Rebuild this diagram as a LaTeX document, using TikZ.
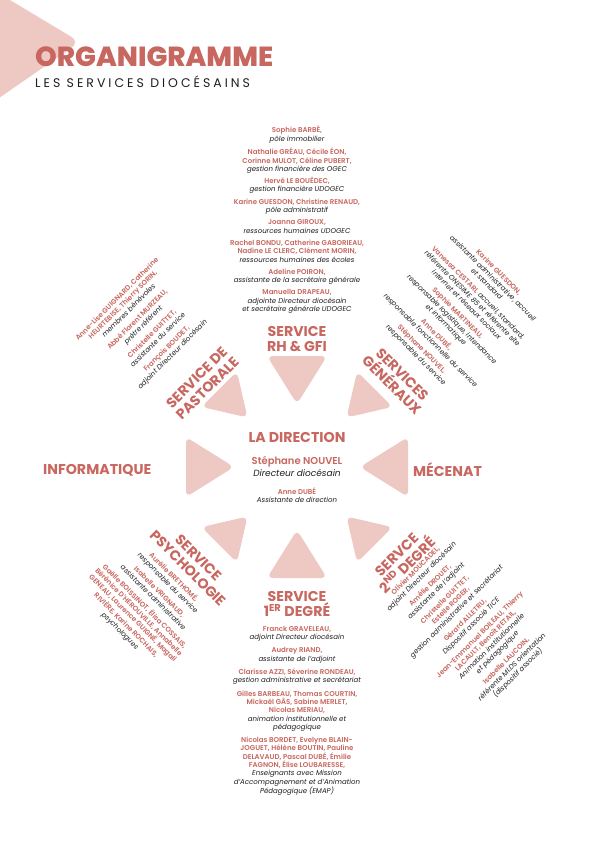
\documentclass[tikz,border=0pt]{standalone}
\usepackage{fontspec}
\setmainfont{Poppins}
\newfontfamily\medfont{Poppins SemiBold}
\newfontfamily\titlefont{Poppins ExtraBold}
\newfontfamily\spacedfont[LetterSpace=24]{Poppins}
\definecolor{rose}{HTML}{C8675F}
\definecolor{blush}{HTML}{EEC9C3}
\definecolor{ink}{HTML}{1E1E1E}
\newcommand{\who}[1]{{\color{rose}\medfont #1}}
\newcommand{\what}[1]{{\itshape #1}}
\tikzset{
  heading/.style={text=rose, font=\bfseries\fontsize{14.2}{15}\selectfont, align=center, inner sep=0pt},
  roster/.style={text=ink, font=\fontsize{7}{8.3}\selectfont, align=center, inner sep=0pt},
  petal/.style={fill=blush, rounded corners=6pt},
}
\begin{document}
\begin{tikzpicture}[x=1pt,y=-1pt]
\useasboundingbox (0,0) rectangle (594,846);
\fill[white] (0,0) rectangle (594,846);
\begin{scope}
\clip (0,0) rectangle (594,846);
\fill[blush, rounded corners=10pt] (-40,-30) -- (80,42) -- (-40,125) -- cycle;
\end{scope}
\node[anchor=base west, text=rose, font=\titlefont\fontsize{27.6}{28}\selectfont, inner sep=0pt] (title) at (35,66) {ORGANIGRAMME};
\node[anchor=base west, text=ink, font=\spacedfont\fontsize{12.5}{13}\selectfont, inner sep=0pt] (subtitle) at (35,87) {LES SERVICES DIOCÉSAINS};
% the eight petals round the direction
\foreach \a in {0,90,180,270}
  \fill[petal, shift={(297,467)}, rotate=\a] (63,0) -- (111,-30) -- (111,30) -- cycle;
\foreach \a in {45,135,225,315}
  \fill[petal, shift={(297,467)}, rotate=\a] (70,0) -- (110,-25) -- (110,25) -- cycle;
% service headings
\node[heading] (rhgfi) at (297,339) {SERVICE\\RH \& GFI};
\node[heading] (direction) at (297,437) {LA DIRECTION};
\node[heading, anchor=west] (informatique) at (43,470) {INFORMATIQUE};
\node[heading, anchor=west] (mecenat) at (413,470) {MÉCENAT};
\node[heading, rotate=45] (pastorale) at (202,383) {SERVICE DE\\PASTORALE};
\node[heading, rotate=-45] (generaux) at (397,380) {SERVICES\\GÉNÉRAUX};
\node[heading, rotate=-45] (psycho) at (193,563) {SERVICE\\PSYCHOLOGIE};
\node[heading, rotate=45] (second) at (402,560) {SERVCE\\2\textsuperscript{ND} DEGRÉ};
\node[heading] (premier) at (297,604) {SERVICE\\1\textsuperscript{ER} DEGRÉ};
% direction
\node[text=rose, font=\medfont\fontsize{10}{11}\selectfont, inner sep=0pt] (nouvel) at (297,462) {Stéphane NOUVEL};
\node[text=ink, font=\itshape\fontsize{9}{10}\selectfont, inner sep=0pt] (nouvelrole) at (297,473) {Directeur diocésain};
\node[roster] (dube) at (297,495) {\who{Anne DUBÉ}\\\what{Assistante de direction}};
% the rosters
\node[roster, anchor=north] (rhlist) at (297,126) {
\who{Sophie BARBÉ,}\\\what{pôle immobilier}\\[4pt]
\who{Nathalie GRÉAU, Cécile ÉON,}\\\who{Corinne MULOT, Céline PUBERT,}\\\what{gestion financière des OGEC}\\[4pt]
\who{Hervé LE BOUËDEC,}\\\what{gestion financière UDOGEC}\\[4pt]
\who{Karine GUESDON, Christine RENAUD,}\\\what{pôle administratif}\\[4pt]
\who{Joanna GIROUX,}\\\what{ressources humaines UDOGEC}\\[4pt]
\who{Rachel BONDU, Catherine GABORIEAU,}\\\who{Nadine LE CLERC, Clément MORIN,}\\\what{ressources humaines des écoles}\\[4pt]
\who{Adeline POIRON,}\\\what{assistante de la secrétaire générale}\\[4pt]
\who{Manuella DRAPEAU,}\\\what{adjointe Directeur diocésain}\\\what{et secrétaire générale UDOGEC}};
\node[roster, rotate=45] (pastlist) at (145,327) {
\who{Anne-Lise GUIGNARD, Catherine}\\\who{HEURTEBISE, Thierry SORIN,}\\\what{membres bénévoles}\\[4pt]
\who{Abbé Florent MURZEAU,}\\\what{prêtre référent}\\[4pt]
\who{Christelle GUITTET,}\\\what{assistante du service}\\[4pt]
\who{François BOUDET,}\\\what{adjoint Directeur diocésain}};
\node[roster, rotate=-45] (genlist) at (457,314) {
\who{Karine GUESDON,}\\\what{assistante administrative, accueil}\\\what{et standard}\\[4pt]
\who{Vanessa CESTARI,} \what{accueil, standard,}\\\what{référente ONESIME 85 et référente site}\\\what{internet et réseaux sociaux}\\[4pt]
\who{Sophie MARTINEAU,}\\\what{responsable logistique, intendance}\\\what{et informatique}\\[4pt]
\who{Anne DUBÉ,}\\\what{responsable fonctionnelle du service}\\[4pt]
\who{Stéphane NOUVEL,}\\\what{responsable du service}};
\node[roster, rotate=-45] (psylist) at (147,604) {
\who{Aurélie BRETHOMÉ,}\\\what{responsable du service}\\[4pt]
\who{Isabelle VRIGNAUD,}\\\what{assistante administrative}\\[4pt]
\who{Gaëlle BOISSINOT, Élisa COSSAIS,}\\\who{Bérénice D'HEROUVILLE, Annabelle}\\\who{GENEAU, Laurence GUIGNÉ, Magali}\\\who{RIVIÈRE, Karine ROCHAIS,}\\\what{psychologues}};
\node[roster, rotate=45] (seclist) at (467,622) {
\who{Olivier MOUCADEL,}\\\what{adjoint Directeur diocésain}\\[4pt]
\who{Amélie DROUET,}\\\what{assistante de l'adjoint}\\[4pt]
\who{Christelle GUITTET,}\\\who{Estelle ROGER,}\\\what{gestion administrative et secrétariat}\\[4pt]
\who{Gérard ALLETRU,}\\\what{Dispositif associé TICE}\\[4pt]
\who{Jean-Emmanuel BOILEAU, Thierry}\\\who{LACAULT, Benoît RETAIL,}\\\what{Animation institutionnelle}\\\what{et pédagogique}\\[4pt]
\who{Isabelle LAUCOIN,}\\\what{référente MLDS orientation}\\\what{(dispositif associé)}};
\node[roster, anchor=north] (premlist) at (297,626) {
\who{Franck GRAVELEAU,}\\\what{adjoint Directeur diocésain}\\[5pt]
\who{Audrey RIAND,}\\\what{assistante de l'adjoint}\\[5pt]
\who{Clarisse AZZI, Séverine RONDEAU,}\\\what{gestion administrative et secrétariat}\\[5pt]
\who{Gilles BARBEAU, Thomas COURTIN,}\\\who{Mickaël GÂS, Sabine MERLET,}\\\who{Nicolas MERIAU,}\\\what{animation institutionnelle et}\\\what{pédagogique}\\[5pt]
\who{Nicolas BORDET, Evelyne BLAIN-}\\\who{JOGUET, Hélène BOUTIN, Pauline}\\\who{DELAVAUD, Pascal DUBÉ, Émilie}\\\who{FAGNON, Élise LOUBARESSE,}\\\what{Enseignants avec Mission}\\\what{d'Accompagnement et d'Animation}\\\what{Pédagogique (EMAP)}};
\end{tikzpicture}
\end{document}
